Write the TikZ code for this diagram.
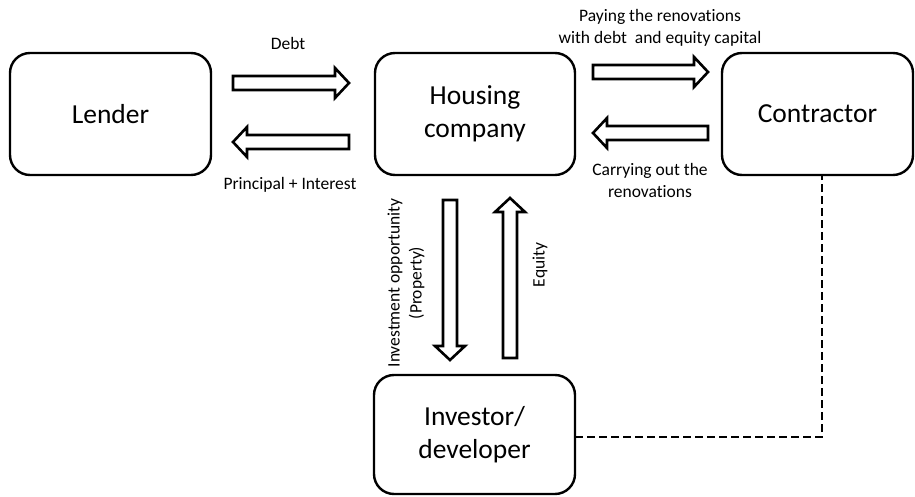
\documentclass[tikz,border=0pt]{standalone}
\usepackage{fontspec}
\setmainfont{Carlito}[Ligatures=NoCommon]
\begin{document}
\begin{tikzpicture}[x=1pt,y=-1pt,
  box/.style={draw, line width=2.4pt, rounded corners=20pt, align=center, inner sep=0pt, outer sep=0pt, font=\fontsize{27.5}{33}\selectfont},
  lbl/.style={align=center, inner sep=0pt, font=\fontsize{17.5}{22}\selectfont},
  arrowline/.style={draw, line width=2.6pt, fill=white, line join=miter},
  dashline/.style={line width=2.8pt, dash pattern=on 8pt off 4pt},
  pics/barrow/.style={code={\path[arrowline] (0,-7) -- ({#1-14},-7) -- ({#1-14},-15) -- (#1,0) -- ({#1-14},15) -- ({#1-14},7) -- (0,7) -- cycle;}}]
\useasboundingbox (0,0) rectangle (915,497);
\node[box, minimum width=201pt, minimum height=122pt] (lender) at (110.5,114) {Lender};
\node[box, minimum width=200pt, minimum height=122pt] (house) at (475,114) {Housing\\company};
\node[box, minimum width=191pt, minimum height=122pt] (con) at (817.5,114) {Contractor};
\node[box, minimum width=201pt, minimum height=119pt] (inv) at (474.5,434.5) {Investor/\\developer};
% block arrows
\pic at (233,83) {barrow=116};
\pic[rotate=180] at (349,142) {barrow=116};
\pic at (593,72) {barrow=115};
\pic[rotate=180] at (708,133) {barrow=115};
\pic[rotate=-90] at (450,200) {barrow=160};
\pic[rotate=90] at (510,358) {barrow=160};
% labels
\node[lbl] (ldebt) at (288,43) {Debt};
\node[lbl] (lpi) at (290,185) {Principal + Interest};
\node[lbl, anchor=south] (lpay) at (660,47) {Paying the renovations\\with debt~~and equity capital};
\node[lbl, anchor=north] (lcarry) at (650,163) {Carrying out the\\renovations};
\node[lbl, rotate=90] (linv) at (406,283) {Investment opportunity\\(Property)};
\node[lbl, rotate=90] (leq) at (540,265) {Equity};
% dashed link
\coordinate (corner) at (822,437);
\draw[dashline] (inv.east |- corner) -- (corner) -- (corner |- con.south);
\end{tikzpicture}
\end{document}
